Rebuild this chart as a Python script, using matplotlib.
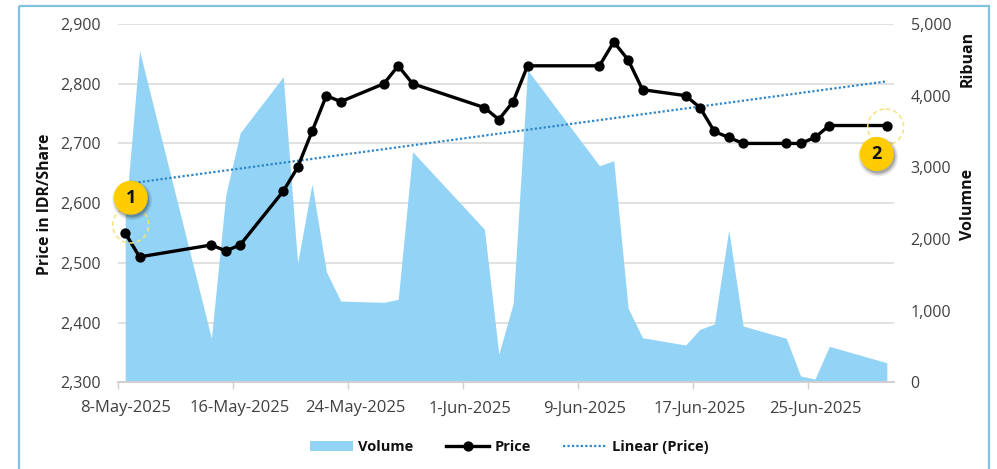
import pandas as pd
import matplotlib
matplotlib.use('Agg')
import matplotlib.pyplot as plt
from matplotlib.lines import Line2D
from matplotlib.patches import Circle, Patch, Rectangle

plt.rcParams['font.family'] = ['Open Sans', 'DejaVu Sans']

# Data
dates = ['2025-05-08', '2025-05-09', '2025-05-14', '2025-05-15', '2025-05-16', '2025-05-19',
         '2025-05-20', '2025-05-21', '2025-05-22', '2025-05-23', '2025-05-26', '2025-05-27',
         '2025-05-28', '2025-06-02', '2025-06-03', '2025-06-04', '2025-06-05', '2025-06-10',
         '2025-06-11', '2025-06-12', '2025-06-13', '2025-06-16', '2025-06-17', '2025-06-18',
         '2025-06-19', '2025-06-20', '2025-06-23', '2025-06-24', '2025-06-25', '2025-06-26',
         '2025-06-30']
price = [2550, 2510, 2530, 2520, 2530, 2620, 2660, 2720, 2780, 2770, 2800, 2830,
         2800, 2760, 2740, 2770, 2830, 2830, 2870, 2840, 2790, 2780, 2760, 2720,
         2710, 2700, 2700, 2700, 2710, 2730, 2730]
volume = [2300, 4627, 614, 2614, 3480, 4265, 1665, 2767, 1543, 1134, 1116, 1158,
          3218, 2135, 395, 1102, 4358, 3023, 3092, 1033, 622, 520, 740, 813,
          2125, 786, 614, 88, 46, 502, 273]
trend_dates = ['2025-05-08', '2025-06-30']
trend_price = [2632, 2804]
tick_dates = ['2025-05-08', '2025-05-16', '2025-05-24', '2025-06-01', '2025-06-09',
              '2025-06-17', '2025-06-25']
tick_labels = ['8-May-2025', '16-May-2025', '24-May-2025', '1-Jun-2025', '9-Jun-2025',
               '17-Jun-2025', '25-Jun-2025']
price_ticks = [2300, 2400, 2500, 2600, 2700, 2800, 2900]
volume_ticks = [0, 1000, 2000, 3000, 4000, 5000]

dates = pd.to_datetime(dates)
trend_dates = pd.to_datetime(trend_dates)
tick_dates = pd.to_datetime(tick_dates)
half_day = pd.Timedelta(hours=12)

W, H = 997, 469
TICK_COLOR = '#404040'
TEXT_COLOR = '#111111'
AREA_COLOR = '#93D4F6'
TREND_COLOR = '#2E86C8'
GRID_COLOR = '#DEDEDE'

fig = plt.figure(figsize=(W / 100, H / 100), dpi=100)
rect = [118 / W, 1 - 382.3 / H, (894 - 118) / W, (382.3 - 24) / H]

# Three layers: grid under the area, area, price on top
ax = fig.add_axes(rect, zorder=1)
ax_vol = ax.twinx()
ax_vol.set_zorder(2)
ax_vol.patch.set_visible(False)
ax_price = ax.twinx()
ax_price.set_zorder(3)
ax_price.patch.set_visible(False)

ax.set_ylim(2300, 2900)
ax.set_yticks(price_ticks)
ax.set_yticklabels([f'{v:,}' for v in price_ticks])
ax.yaxis.grid(True, color=GRID_COLOR, lw=1.3)
ax.set_axisbelow(True)
ax.set_xlim(dates[0] - half_day, dates[-1] + half_day)

# Ticks sit between date slots, labels at the middle of the slot
ax.set_xticks(tick_dates - half_day)
ax.set_xticklabels([''] * len(tick_dates))
ax.set_xticks(tick_dates, minor=True)
ax.set_xticklabels(tick_labels, minor=True)
ax.tick_params(axis='x', which='major', length=5, width=1, color='#D0D0D0')
ax.tick_params(axis='x', which='minor', length=0, pad=13, labelsize=12, labelcolor=TICK_COLOR)
ax.tick_params(axis='y', length=0, pad=12, labelsize=11.5, labelcolor=TICK_COLOR)

ax_vol.fill_between(dates, volume, 0, color=AREA_COLOR, lw=0)
ax_vol.set_ylim(0, 5000)
ax_vol.set_yticks(volume_ticks)
ax_vol.set_yticklabels([f'{v:,}' for v in volume_ticks])
ax_vol.tick_params(axis='y', length=0, pad=12, labelsize=11.5, labelcolor=TICK_COLOR)

ax_price.plot(trend_dates, trend_price, color=TREND_COLOR, lw=1.6, ls=(0, (1, 1)))
ax_price.plot(dates, price, color='black', lw=2.4, marker='o', ms=6.4, mew=1)
ax_price.set_ylim(2300, 2900)
ax_price.set_yticks([])

for a in (ax, ax_vol, ax_price):
    for side in ('top', 'left', 'right'):
        a.spines[side].set_visible(False)
    a.spines['bottom'].set_color('#D0D0D0')
    a.spines['bottom'].set_linewidth(1.2)

# Overlay in pixel coordinates for frame, badges and axis titles
over = fig.add_axes([0, 0, 1, 1], zorder=5)
over.set_xlim(0, W)
over.set_ylim(H, 0)
over.axis('off')
over.add_patch(Rectangle((18.5, 6), 970.5, 480, fill=False, ec='#7EC4DF', lw=1.6))

over.text(45, 204, 'Price in IDR/Share', rotation=90, ha='center', va='center',
          fontsize=11.3, fontweight='bold', color=TEXT_COLOR)
over.text(968, 204, 'Volumne', rotation=90, ha='center', va='center',
          fontsize=11.5, fontweight='bold', color=TEXT_COLOR)
over.text(968, 58.5, 'Ribuan', rotation=90, ha='center', va='center',
          fontsize=11.5, fontweight='bold', color=TEXT_COLOR)

badges = [('1', 130.7, 197.7, 130.7, 225), ('2', 876.7, 154, 885.7, 127)]
for label, bx, by, cx, cy in badges:
    over.add_patch(Circle((cx, cy), 18, fill=False, ec='#F7E27A', lw=1.1, ls=(0, (3, 2))))
    for grow, alpha in ((3, 0.08), (1.5, 0.12), (0, 0.18)):
        over.add_patch(Circle((bx + 1.5, by + 2.5), 17 + grow, fc='black', ec='none', alpha=alpha))
    over.add_patch(Circle((bx, by), 17, fc='#FFCC00', ec='none'))
    over.text(bx, by, label, ha='center', va='center', fontsize=13, fontweight='bold',
              color='#111111')

handles = [
    Patch(fc=AREA_COLOR, ec='none', label='Volume'),
    Line2D([], [], color='black', lw=2.4, marker='o', ms=6.4, mew=1, label='Price'),
    Line2D([], [], color=TREND_COLOR, lw=1.6, ls=(0, (1, 1)), label='Linear (Price)'),
]
fig.legend(handles=handles, loc='center', bbox_to_anchor=(509 / W, 1 - 447 / H), ncol=3,
           frameon=False, handlelength=3, columnspacing=2.2, handletextpad=0.35,
           prop={'size': 10.5, 'weight': 'bold'}, labelcolor=TEXT_COLOR)

fig.savefig('out.png', dpi=100)
